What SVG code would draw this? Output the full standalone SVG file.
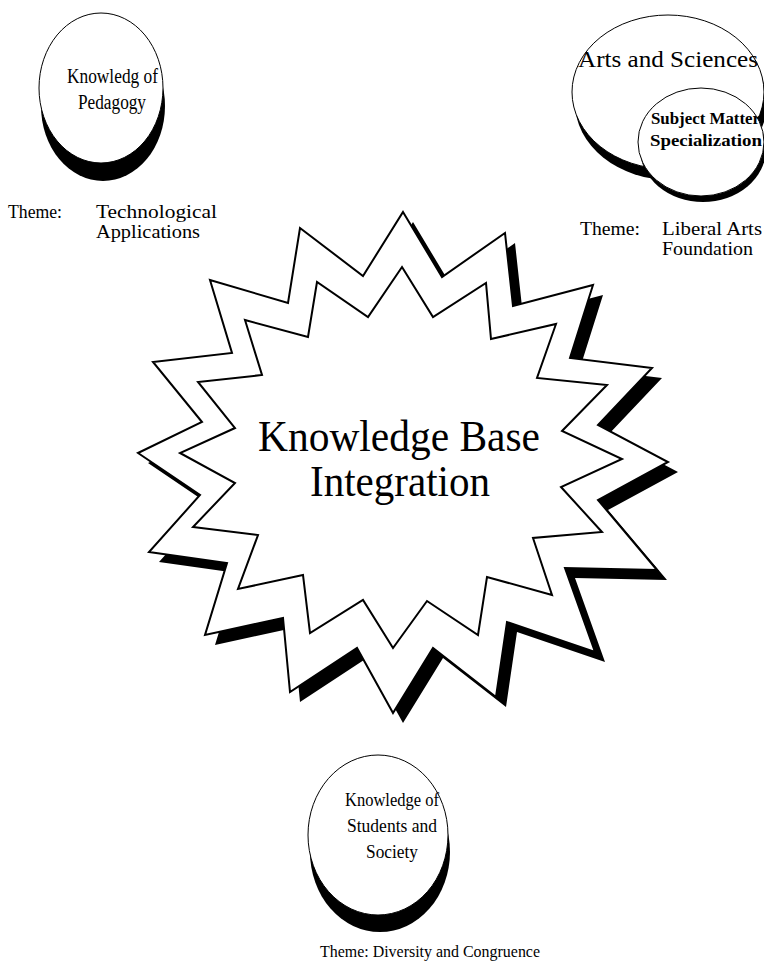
<svg xmlns="http://www.w3.org/2000/svg" width="764" height="969" viewBox="0 0 764 969">
<style>
.t{font-family:"Liberation Serif","Times New Roman",serif;fill:#000}
.face{fill:#fff;stroke:#000;stroke-width:1}
.sh{fill:#000}
.star{fill:#fff;stroke:#000;stroke-width:2;stroke-linejoin:miter}
</style>
<rect width="764" height="969" fill="#fff"/>
<g id="pedagogy">
<ellipse class="sh" cx="103" cy="106" rx="62" ry="75"/>
<ellipse class="face" cx="101" cy="88" rx="62" ry="75"/>
<text class="t" x="67" y="83" font-size="20" textLength="91" lengthAdjust="spacingAndGlyphs">Knowledg of</text>
<text class="t" x="78" y="109" font-size="20" textLength="68" lengthAdjust="spacingAndGlyphs">Pedagogy</text>
<text class="t" x="8" y="218" font-size="18" textLength="54" lengthAdjust="spacingAndGlyphs">Theme:</text>
<text class="t" x="96" y="218" font-size="18" textLength="121" lengthAdjust="spacingAndGlyphs">Technological</text>
<text class="t" x="96" y="238" font-size="18" textLength="104" lengthAdjust="spacingAndGlyphs">Applications</text>
</g>
<g id="arts">
<ellipse class="sh" cx="671" cy="103" rx="96" ry="77"/>
<ellipse class="face" cx="668" cy="92" rx="96" ry="77"/>
<ellipse class="sh" cx="703" cy="149" rx="63" ry="53"/>
<ellipse class="face" cx="701" cy="142" rx="63" ry="54"/>
<text class="t" x="578" y="67" font-size="24" textLength="180" lengthAdjust="spacingAndGlyphs">Arts and Sciences</text>
<text class="t" x="651" y="124" font-size="17" font-weight="bold" textLength="109" lengthAdjust="spacingAndGlyphs">Subject Matter</text>
<text class="t" x="650" y="146" font-size="17" font-weight="bold" textLength="112" lengthAdjust="spacingAndGlyphs">Specialization</text>
<text class="t" x="580" y="235" font-size="19" textLength="60" lengthAdjust="spacingAndGlyphs">Theme:</text>
<text class="t" x="662" y="235" font-size="19" textLength="100" lengthAdjust="spacingAndGlyphs">Liberal Arts</text>
<text class="t" x="662" y="255" font-size="19" textLength="91" lengthAdjust="spacingAndGlyphs">Foundation</text>
</g>
<g id="integration">
<polygon class="sh" transform="translate(10,10)" points="403,212 442,277 505,233 513,306 593,285 570,358 652,368 598,425 668,462 598,500 657,570 565,568 595,652 507,622 496,697 433,648 393,713 357,648 290,692 283,618 205,635 227,563 149,552 200,495 138,453 202,422 153,362 232,353 210,280 288,303 300,228 363,276"/>
<polygon class="star" points="403,212 442,277 505,233 513,306 593,285 570,358 652,368 598,425 668,462 598,500 657,570 565,568 595,652 507,622 496,697 433,648 393,713 357,648 290,692 283,618 205,635 227,563 149,552 200,495 138,453 202,422 153,362 232,353 210,280 288,303 300,228 363,276"/>
<polygon class="star" points="402,267 433,317 486,283 491,339 556,324 537,378 607,385 562,431 622,459 561,487 602,532 533,538 552,595 487,577 478,635 427,601 393,648 363,600 310,633 303,575 238,589 258,535 193,527 235,483 180,453 235,428 198,382 262,375 245,320 308,337 317,282 368,317"/>
<text class="t" x="258" y="451" font-size="44" textLength="282" lengthAdjust="spacingAndGlyphs">Knowledge Base</text>
<text class="t" x="310" y="496" font-size="44" textLength="180" lengthAdjust="spacingAndGlyphs">Integration</text>
</g>
<g id="students">
<ellipse class="sh" cx="380" cy="852" rx="70" ry="80"/>
<ellipse class="face" cx="378" cy="835" rx="70" ry="80"/>
<text class="t" x="345" y="806" font-size="19" textLength="94" lengthAdjust="spacingAndGlyphs">Knowledge of</text>
<text class="t" x="347" y="832" font-size="19" textLength="90" lengthAdjust="spacingAndGlyphs">Students and</text>
<text class="t" x="366" y="858" font-size="19" textLength="52" lengthAdjust="spacingAndGlyphs">Society</text>
<text class="t" x="320" y="957" font-size="17" textLength="220" lengthAdjust="spacingAndGlyphs">Theme: Diversity and Congruence</text>
</g>
<g id="connectors"/>
</svg>
